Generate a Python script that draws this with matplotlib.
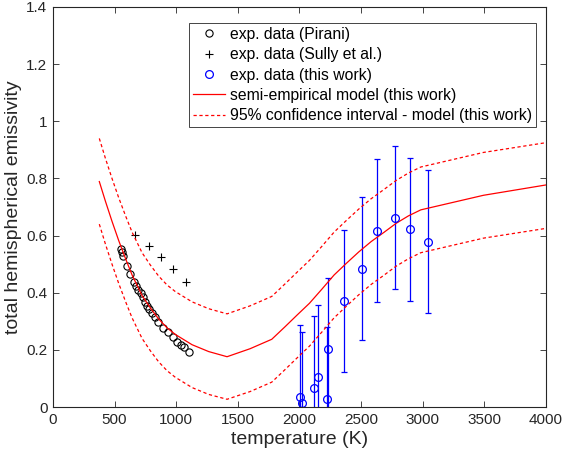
import matplotlib
matplotlib.use("Agg")
import matplotlib.pyplot as plt

plt.rcParams['font.family'] = ['Liberation Sans', 'DejaVu Sans']

# Pirani experimental data
pirani_T = [552, 558, 571, 604, 625, 658, 674, 693, 712, 728, 747, 766, 782, 804,
            826, 855, 896, 937, 977, 1010, 1037, 1064, 1102]
pirani_e = [0.553, 0.541, 0.530, 0.494, 0.466, 0.439, 0.425, 0.410, 0.398, 0.384,
            0.369, 0.355, 0.342, 0.328, 0.316, 0.299, 0.278, 0.264, 0.244, 0.229,
            0.217, 0.209, 0.194]

# Sully et al. experimental data
sully_T = [669, 777, 877, 975, 1080]
sully_e = [0.602, 0.565, 0.526, 0.482, 0.439]

# this work experimental data
work_T = [2006, 2022, 2122, 2150, 2223, 2233, 2366, 2507, 2629, 2775, 2902, 3043]
work_e = [0.036, 0.013, 0.067, 0.106, 0.029, 0.202, 0.371, 0.484, 0.617, 0.663, 0.622, 0.578]
work_err = [0.251, 0.248, 0.250, 0.251, 0.250, 0.251, 0.250, 0.250, 0.250, 0.250, 0.251, 0.250]

# semi-empirical model and 95% confidence interval
model_T = [376, 425, 479, 533, 590, 642, 723, 790, 858, 926, 993, 1129, 1264, 1413,
           1600, 1776, 1884, 1982, 2082, 2182, 2282, 2382, 2483, 2583, 2686, 2786,
           2886, 2986, 3495, 4000]
model_e = [0.789, 0.721, 0.650, 0.583, 0.518, 0.462, 0.390, 0.347, 0.308, 0.277, 0.254,
           0.218, 0.194, 0.176, 0.204, 0.237, 0.281, 0.322, 0.363, 0.412, 0.462, 0.503,
           0.543, 0.579, 0.611, 0.643, 0.669, 0.690, 0.741, 0.777]
upper_e = [0.940, 0.871, 0.800, 0.733, 0.668, 0.612, 0.540, 0.497, 0.458, 0.427, 0.404,
           0.368, 0.344, 0.326, 0.354, 0.387, 0.431, 0.472, 0.513, 0.562, 0.612, 0.653,
           0.693, 0.729, 0.761, 0.793, 0.819, 0.840, 0.891, 0.925]
lower_e = [0.640, 0.571, 0.500, 0.433, 0.368, 0.312, 0.240, 0.197, 0.158, 0.127, 0.104,
           0.068, 0.044, 0.027, 0.054, 0.087, 0.131, 0.172, 0.213, 0.262, 0.312, 0.353,
           0.393, 0.429, 0.461, 0.493, 0.519, 0.540, 0.591, 0.625]

xticks = [0, 500, 1000, 1500, 2000, 2500, 3000, 3500, 4000]
yticks = [0, 0.2, 0.4, 0.6, 0.8, 1.0, 1.2, 1.4]
yticklabels = ['0', '0.2', '0.4', '0.6', '0.8', '1', '1.2', '1.4']

W, H = 566, 461
fig = plt.figure(figsize=(W / 100, H / 100), dpi=100)
ax = fig.add_axes([53 / W, 1 - 407 / H, (545.7 - 53) / W, 400 / H])

gray = (0.15, 0.15, 0.15)

h_pir, = ax.plot(pirani_T, pirani_e, 'o', mfc='none', mec='black', ms=5.2, mew=0.8)
h_sul, = ax.plot(sully_T, sully_e, '+', color='black', ms=6, mew=0.8)
eb = ax.errorbar(work_T, work_e, yerr=work_err, fmt='o', mfc='none', mec='blue',
                 ecolor='blue', ms=5.6, mew=0.9, elinewidth=0.9, capsize=2, capthick=0.9)
h_mod, = ax.plot(model_T, model_e, '-', color='red', lw=0.9)
h_ci, = ax.plot(model_T, upper_e, '--', color='red', lw=0.9, dashes=(2.6, 2.1))
ax.plot(model_T, lower_e, '--', color='red', lw=0.9, dashes=(2.6, 2.1))

ax.set_xlim(0, 4000)
ax.set_ylim(0, 1.4)
ax.set_xticks(xticks)
ax.set_yticks(yticks)
ax.set_yticklabels(yticklabels)
ax.tick_params(direction='in', top=True, right=True, length=4, width=0.6,
               colors=gray, labelsize=11, labelcolor=gray, pad=4)
for s in ax.spines.values():
    s.set_color(gray)
    s.set_linewidth(0.8)

ax.set_xlabel('temperature (K)', fontsize=14, color=gray, labelpad=3)
ax.set_ylabel('total hemispherical emissivity', fontsize=14, color=gray, labelpad=3)

handles = [h_pir, h_sul, eb[0], h_mod, h_ci]
labels = ['exp. data (Pirani)', 'exp. data (Sully et al.)', 'exp. data (this work)',
          'semi-empirical model (this work)', '95% confidence interval - model (this work)']
leg = ax.legend(handles, labels, loc='upper right',
                bbox_to_anchor=(536 / W, 1 - 23 / H), bbox_transform=fig.transFigure,
                borderaxespad=0, fontsize=11.3, frameon=True, fancybox=False,
                edgecolor=gray, framealpha=1, labelspacing=0.34, handlelength=2.0,
                handletextpad=0.35, borderpad=0.25)
leg.get_frame().set_linewidth(0.6)

fig.savefig('out.png', dpi=100)
